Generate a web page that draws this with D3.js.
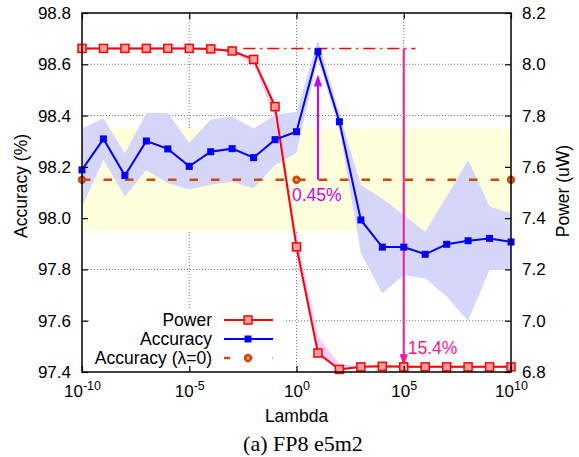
<!DOCTYPE html>
<html lang="en">
<head>
<meta charset="utf-8">
<script src="https://d3js.org/d3.v7.min.js"></script>
<title>FP8 e5m2</title>
<style>
  body { margin: 0; background: #fff; }
  svg { display: block; }
  svg text { font-family: "Liberation Sans", Arial, sans-serif; }
  svg text.caption { font-family: "Liberation Serif", "Times New Roman", serif; }
</style>
</head>
<body>
<div id="chart"></div>
<script>
// lambda values (one per decade)
var lambdas = [1e-10, 1e-9, 1e-8, 1e-7, 1e-6, 1e-5, 1e-4, 1e-3, 1e-2, 1e-1, 1,
               1e1, 1e2, 1e3, 1e4, 1e5, 1e6, 1e7, 1e8, 1e9, 1e10];
// power (uW), right axis
var power   = [8.062, 8.062, 8.062, 8.062, 8.062, 8.062, 8.060, 8.052, 8.019, 7.835, 7.288,
               6.874, 6.810, 6.820, 6.822, 6.820, 6.820, 6.820, 6.820, 6.820, 6.820];
var powerHi = [8.066, 8.066, 8.066, 8.066, 8.066, 8.066, 8.064, 8.058, 8.028, 7.850, 7.330,
               6.940, 6.830, 6.824, 6.826, 6.824, 6.824, 6.824, 6.824, 6.824, 6.824];
var powerLo = [8.058, 8.058, 8.058, 8.058, 8.058, 8.058, 8.055, 8.045, 8.000, 7.790, 7.260,
               6.862, 6.806, 6.816, 6.818, 6.816, 6.816, 6.816, 6.816, 6.816, 6.816];
// accuracy (%), left axis
var accuracy = [98.188, 98.309, 98.166, 98.301, 98.270, 98.202, 98.259, 98.271, 98.236, 98.306, 98.337,
                98.649, 98.376, 97.993, 97.887, 97.887, 97.859, 97.898, 97.912, 97.921, 97.907];
var accHi    = [98.350, 98.390, 98.253, 98.411, 98.410, 98.294, 98.385, 98.396, 98.350, 98.402, 98.415,
                98.695, 98.410, 98.129, 98.077, 98.012, 97.947, 98.084, 98.227, 98.045, 98.019];
var accLo    = [98.045, 98.227, 98.084, 98.188, 98.136, 98.112, 98.130, 98.142, 98.116, 98.207, 98.254,
                98.620, 98.345, 97.863, 97.707, 97.778, 97.765, 97.694, 97.600, 97.798, 97.798];
// baseline accuracy (lambda = 0) and its band
var baseAcc = 98.15;
var baseBand = [97.95, 98.35];
var baseMarks = [1e-10, 1, 1e10];
// reference power level (dash-dot)
var refPowerX = [3.3e-3, 3.5e5];
var refPower = 8.062;

var xTicks = [-10, -5, 0, 5, 10];
var yLeftTicks = [97.4, 97.6, 97.8, 98.0, 98.2, 98.4, 98.6, 98.8];
var yRightTicks = [6.8, 7.0, 7.2, 7.4, 7.6, 7.8, 8.0, 8.2];

// annotations
var accArrow = {x: 1e1, from: 98.15, to: 98.56, label: "0.45%"};
var powArrow = {x: 1e5, from: 8.062, to: 6.822, label: "15.4%"};

var W = 579, H = 457;
var margin = {top: 13, right: 68, bottom: 85, left: 82};
var width = W - margin.left - margin.right,
    height = H - margin.top - margin.bottom;

var svg = d3.select("#chart").append("svg")
    .attr("width", W).attr("height", H);
var g = svg.append("g")
    .attr("transform", "translate(" + margin.left + "," + margin.top + ")");

var x = d3.scaleLog().domain([1e-10, 1e10]).range([0, width]);
var yL = d3.scaleLinear().domain([97.4, 98.8]).range([height, 0]);
var yR = d3.scaleLinear().domain([6.8, 8.2]).range([height, 0]);

// grid
var grid = g.append("g").attr("stroke", "#777").attr("stroke-width", 1)
    .attr("stroke-dasharray", "1,2");
xTicks.slice(1, -1).forEach(function(e) {
  grid.append("line").attr("x1", x(Math.pow(10, e))).attr("x2", x(Math.pow(10, e)))
      .attr("y1", 0).attr("y2", height);
});
yLeftTicks.slice(1, -1).forEach(function(v) {
  grid.append("line").attr("x1", 0).attr("x2", width)
      .attr("y1", yL(v)).attr("y2", yL(v));
});

// baseline band
g.append("rect")
    .attr("x", 0).attr("width", width)
    .attr("y", yL(baseBand[1])).attr("height", yL(baseBand[0]) - yL(baseBand[1]))
    .attr("fill", "#ffffdc");

// accuracy band
g.append("path").datum(lambdas)
    .attr("fill", "#d6d6fb")
    .attr("d", d3.area()
        .x(function(d) { return x(d); })
        .y0(function(d, i) { return yL(accLo[i]); })
        .y1(function(d, i) { return yL(accHi[i]); }));

// power band
g.append("path").datum(lambdas)
    .attr("fill", "#ffccff")
    .attr("d", d3.area()
        .x(function(d) { return x(d); })
        .y0(function(d, i) { return yR(powerLo[i]); })
        .y1(function(d, i) { return yR(powerHi[i]); }));

// legend background
var legend = g.append("g").attr("transform", "translate(8," + (height - 62) + ")");
legend.append("rect").attr("x", 0).attr("y", 0).attr("width", 194).attr("height", 58)
    .attr("fill", "#fff");

// baseline dashed
g.append("line")
    .attr("x1", 0).attr("x2", width).attr("y1", yL(baseAcc)).attr("y2", yL(baseAcc))
    .attr("stroke", "#c84b0c").attr("stroke-width", 2.5).attr("stroke-dasharray", "8.5,13");

// reference power dash-dot
g.append("line")
    .attr("x1", x(refPowerX[0])).attr("x2", x(refPowerX[1]))
    .attr("y1", yR(refPower)).attr("y2", yR(refPower))
    .attr("stroke", "#ff0000").attr("stroke-width", 1.5)
    .attr("stroke-dasharray", "12,5,2,5");

// arrows
function arrow(ax, y1, y2, color) {
  var dir = y2 < y1 ? 1 : -1;
  g.append("line").attr("x1", ax).attr("x2", ax).attr("y1", y1).attr("y2", y2 + dir * 10)
      .attr("stroke", color).attr("stroke-width", 2);
  g.append("path")
      .attr("d", "M" + ax + "," + y2 + "L" + (ax - 4) + "," + (y2 + dir * 12) +
                 "L" + (ax + 4) + "," + (y2 + dir * 12) + "Z")
      .attr("fill", color);
}
arrow(x(accArrow.x), yL(accArrow.from), yL(accArrow.to), "#cc00ff");
arrow(x(powArrow.x), yR(powArrow.from), yR(powArrow.to), "#ff1493");

g.append("text").attr("x", x(accArrow.x) - 26).attr("y", yL(accArrow.from) + 21)
    .attr("fill", "#cc00ff").attr("font-size", 17.5).text(accArrow.label);
g.append("text").attr("x", x(powArrow.x) + 4).attr("y", yR(powArrow.to) - 12)
    .attr("fill", "#ff1493").attr("font-size", 17.5).text(powArrow.label);

// baseline markers
function baseMarker(sel, cx, cy) {
  sel.append("circle").attr("cx", cx).attr("cy", cy).attr("r", 4.2).attr("fill", "#c84b0c");
  sel.append("circle").attr("cx", cx).attr("cy", cy).attr("r", 1.5).attr("fill", "#f0a070");
}
baseMarks.forEach(function(v) { baseMarker(g, x(v), yL(baseAcc)); });

// power line
g.append("path").datum(lambdas)
    .attr("fill", "none").attr("stroke", "#ff0000").attr("stroke-width", 2)
    .attr("d", d3.line().x(function(d) { return x(d); })
        .y(function(d, i) { return yR(power[i]); }));
g.selectAll(".pm").data(lambdas).enter().append("rect")
    .attr("x", function(d) { return x(d) - 4; })
    .attr("y", function(d, i) { return yR(power[i]) - 4; })
    .attr("width", 8).attr("height", 8)
    .attr("fill", "#ffa0a0").attr("stroke", "#ff0000").attr("stroke-width", 1.5);

// accuracy line
g.append("path").datum(lambdas)
    .attr("fill", "none").attr("stroke", "#0000ff").attr("stroke-width", 2)
    .attr("d", d3.line().x(function(d) { return x(d); })
        .y(function(d, i) { return yL(accuracy[i]); }));
g.selectAll(".am").data(lambdas).enter().append("rect")
    .attr("x", function(d) { return x(d) - 3.5; })
    .attr("y", function(d, i) { return yL(accuracy[i]) - 3.5; })
    .attr("width", 7).attr("height", 7).attr("fill", "#0000ff");

// legend
var rows = [
  {label: "Power", color: "#ff0000", type: "power"},
  {label: "Accuracy", color: "#0000ff", type: "acc"},
  {label: "Accuracy (\u03bb=0)", color: "#c84b0c", type: "base"}
];
rows.forEach(function(r, i) {
  var yy = 10 + i * 19;
  legend.append("text").attr("x", 122).attr("y", yy + 6).attr("text-anchor", "end")
      .attr("font-size", 17.5).attr("fill", "#000").text(r.label);
  if (r.type === "base") {
    legend.append("line").attr("x1", 134).attr("x2", 183).attr("y1", yy).attr("y2", yy)
        .attr("stroke", r.color).attr("stroke-width", 2.5).attr("stroke-dasharray", "6,14.5,8,20");
    baseMarker(legend, 158, yy);
  } else {
    legend.append("line").attr("x1", 134).attr("x2", 183).attr("y1", yy).attr("y2", yy)
        .attr("stroke", r.color).attr("stroke-width", 2);
    if (r.type === "power") {
      legend.append("rect").attr("x", 154).attr("y", yy - 4).attr("width", 8).attr("height", 8)
          .attr("fill", "#ffa0a0").attr("stroke", r.color).attr("stroke-width", 1.5);
    } else {
      legend.append("rect").attr("x", 154.5).attr("y", yy - 3.5).attr("width", 7).attr("height", 7)
          .attr("fill", r.color);
    }
  }
});

// axes
var tickVals = xTicks.map(function(e) { return Math.pow(10, e); });
var xAxis = g.append("g").attr("transform", "translate(0," + height + ")")
    .call(d3.axisBottom(x).tickValues(tickVals).tickSizeInner(-6).tickSizeOuter(0).tickFormat(""));
xAxis.selectAll(".tick").each(function(d, i) {
  var t = d3.select(this).append("text").attr("y", 25).attr("fill", "#000")
      .attr("font-size", 17).attr("text-anchor", "middle");
  t.append("tspan").text("10");
  t.append("tspan").attr("dy", -7).attr("font-size", 12.5).text(xTicks[i]);
});
g.append("g")
    .call(d3.axisTop(x).tickValues(tickVals).tickSizeInner(-6).tickSizeOuter(0).tickFormat(""));
g.append("g")
    .call(d3.axisLeft(yL).tickValues(yLeftTicks).tickSizeInner(-6).tickSizeOuter(0)
        .tickPadding(11).tickFormat(d3.format(".1f")))
    .selectAll("text").attr("font-size", 17).attr("fill", "#000");
g.append("g").attr("transform", "translate(" + width + ",0)")
    .call(d3.axisRight(yR).tickValues(yRightTicks).tickSizeInner(-6).tickSizeOuter(0)
        .tickPadding(11).tickFormat(d3.format(".1f")))
    .selectAll("text").attr("font-size", 17).attr("fill", "#000");
g.selectAll(".domain").remove();
g.selectAll(".tick line").attr("stroke", "#000").attr("stroke-width", 1.2);

// frame
g.append("rect").attr("width", width).attr("height", height)
    .attr("fill", "none").attr("stroke", "#000").attr("stroke-width", 1.5);

// labels
svg.append("text").attr("transform", "translate(27,186) rotate(-90)")
    .attr("text-anchor", "middle").attr("font-size", 17.5).text("Accuracy (%)");
svg.append("text").attr("transform", "translate(569,191) rotate(-90)")
    .attr("text-anchor", "middle").attr("font-size", 17.5).text("Power (uW)");
svg.append("text").attr("x", margin.left + width / 2).attr("y", 422)
    .attr("text-anchor", "middle").attr("font-size", 17.5).text("Lambda");
svg.append("text").attr("class", "caption").attr("x", 303).attr("y", 451)
    .attr("text-anchor", "middle").attr("font-size", 22).text("(a) FP8 e5m2");
</script>
</body>
</html>
